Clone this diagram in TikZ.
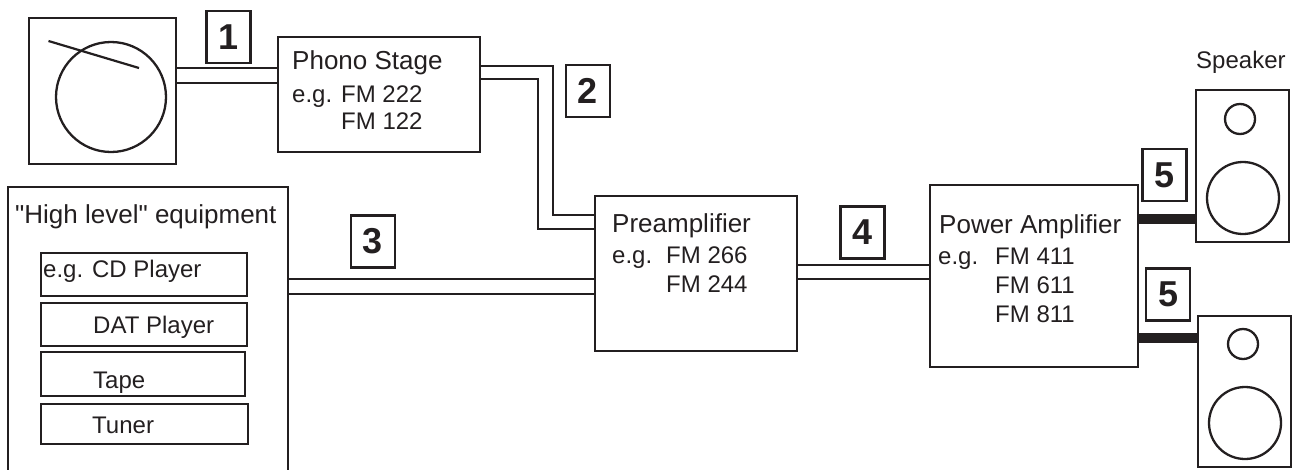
\documentclass[tikz,border=0pt]{standalone}
\usepackage{fontspec}
\newfontfamily\labelfont{Liberation Sans}
\usetikzlibrary{positioning,calc}
\definecolor{inkblack}{HTML}{231F20}
\tikzset{
  blockbox/.style={draw=inkblack, line width=2.3pt, inner sep=0pt, outer sep=0pt},
  smallbox/.style={draw=inkblack, line width=1.6pt, inner sep=0pt, outer sep=0pt},
  tagbox/.style={draw=inkblack, line width=2.3pt, inner sep=0pt, outer sep=0pt, minimum width=44pt, minimum height=52pt, font=\labelfont\fontsize{36}{38}\selectfont\bfseries, text=inkblack},
  conering/.style={draw=inkblack, line width=2.3pt, circle, inner sep=0pt, outer sep=0pt},
  labeltext/.style={anchor=base west, inner sep=0pt, text=inkblack, font=\labelfont\fontsize{24}{28}\selectfont},
  titletext/.style={labeltext, font=\labelfont\fontsize{26}{30}\selectfont},
  wire/.style={draw=inkblack, line width=2.2pt},
  thinwire/.style={draw=inkblack, line width=1.6pt},
  thickwire/.style={draw=inkblack, line width=10pt}
}
\begin{document}
\begin{tikzpicture}[x=1pt, y=-1pt]
  \clip (0,0) rectangle (1305,469);

  % turntable
  \node[blockbox, minimum width=147pt, minimum height=146pt] (turntable) at (102.5,91) {};
  \node[conering, minimum size=110pt] (platter) at (111,97) {};
  \draw[wire] (48.5,41) -- (139,68);

  % main boxes
  \node[blockbox, minimum width=202pt, minimum height=115pt] (phono) at (379,94.5) {};
  \node[blockbox, minimum width=280pt, minimum height=288pt] (highlevel) at (148,331) {};
  \node[blockbox, minimum width=202pt, minimum height=155pt] (preamp) at (696,273.5) {};
  \node[blockbox, minimum width=208pt, minimum height=182pt] (power) at (1034,276) {};

  % sources
  \node[smallbox, minimum width=206pt, minimum height=43pt] (cdbox) at (144,274.5) {};
  \node[smallbox, minimum width=206pt, minimum height=43pt] (datbox) at (144,324.5) {};
  \node[smallbox, minimum width=204pt, minimum height=44pt] (tapebox) at (143,374) {};
  \node[smallbox, minimum width=207pt, minimum height=40pt] (tunerbox) at (144.5,424) {};

  % speakers
  \node[blockbox, minimum width=93pt, minimum height=152pt] (speakera) at (1242.5,166) {};
  \node[conering, minimum size=30pt] (tweetera) at (1240,119) {};
  \node[conering, minimum size=72pt] (woofera) at (1243,198) {};
  \node[blockbox, minimum width=93pt, minimum height=151pt] (speakerb) at (1244.5,391.5) {};
  \node[conering, minimum size=30pt] (tweeterb) at (1243,344) {};
  \node[conering, minimum size=72pt] (wooferb) at (1245,423) {};

  % numbers
  \node[tagbox] (tagone) at (228.5,37) {1};
  \node[tagbox] (tagtwo) at (588,91) {2};
  \node[tagbox] (tagthree) at (373,241.5) {3};
  \node[tagbox] (tagfour) at (862.5,232.5) {4};
  \node[tagbox] (tagfivea) at (1164.5,175) {5};
  \node[tagbox] (tagfiveb) at (1168,294.5) {5};

  % connectors
  \draw[thinwire] (turntable.east |- 0,68) -- (phono.west |- 0,68);
  \draw[thinwire] (turntable.east |- 0,83) -- (phono.west |- 0,83);
  \draw[wire] (phono.east |- 0,66) -- (553,66) |- (preamp.west |- 0,215);
  \draw[wire] (phono.east |- 0,79) -- (538,79) |- (preamp.west |- 0,229);
  \draw[wire] (highlevel.east |- 0,279) -- (preamp.west |- 0,279);
  \draw[wire] (highlevel.east |- 0,294) -- (preamp.west |- 0,294);
  \draw[thinwire] (preamp.east |- 0,265) -- (power.west |- 0,265);
  \draw[thinwire] (preamp.east |- 0,279) -- (power.west |- 0,279);
  \draw[thickwire] (power.east |- 0,219) -- (speakera.west |- 0,219);
  \draw[thickwire] (power.east |- 0,338) -- (speakerb.west |- 0,338);

  % labels
  \node[titletext] (phononame) at (292,69) {Phono Stage};
  \node[labeltext] (phonoeg) at (292,102) {e.g. FM 222};
  \node[labeltext] (phonotwo) at (341,129) {FM 122};
  \node[titletext] (highname) at (15,223) {"High level" equipment};
  \node[labeltext] (cdname) at (43,277) {e.g. CD Player};
  \node[labeltext] (datname) at (93,333) {DAT Player};
  \node[labeltext] (tapename) at (93,388) {Tape};
  \node[labeltext] (tunername) at (92,433) {Tuner};
  \node[titletext] (prename) at (612,232) {Preamplifier};
  \node[labeltext] (preeg) at (612,263) {e.g.};
  \node[labeltext] (preone) at (666,263) {FM 266};
  \node[labeltext] (pretwo) at (666,292) {FM 244};
  \node[titletext] (powername) at (939,233) {Power Amplifier};
  \node[labeltext] (powereg) at (938,264) {e.g.};
  \node[labeltext] (powerone) at (995,264) {FM 411};
  \node[labeltext] (powertwo) at (995,293) {FM 611};
  \node[labeltext] (powerthree) at (995,322) {FM 811};
  \node[labeltext] (speakername) at (1196,68) {Speaker};
\end{tikzpicture}
\end{document}
